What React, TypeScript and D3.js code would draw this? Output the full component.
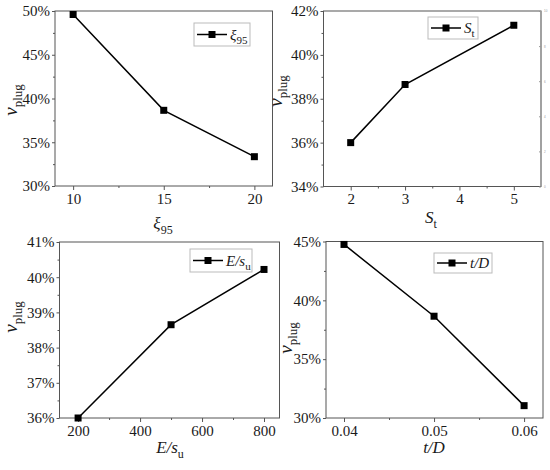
import { useEffect, useRef } from 'react';
import * as d3 from 'd3';

// ---- data ----
const xiX = [10, 15, 20];
const xiY = [49.6, 38.65, 33.35];
const xiXTicks = [10, 15, 20];
const xiYTicks = [30, 35, 40, 45, 50];

const stX = [2, 3, 5];
const stY = [36.0, 38.65, 41.35];
const stXTicks = [2, 3, 4, 5];
const stYTicks = [34, 36, 38, 40, 42];
const stRightTicks = [0, 2, 4, 6, 8, 10];

const esuX = [200, 500, 800];
const esuY = [36.0, 38.65, 40.22];
const esuXTicks = [200, 400, 600, 800];
const esuYTicks = [36, 37, 38, 39, 40, 41];

const tdX = [0.04, 0.05, 0.06];
const tdY = [44.75, 38.65, 31.05];
const tdXTicks = [0.04, 0.05, 0.06];
const tdYTicks = [30, 35, 40, 45];

type Part = { t: string; it?: boolean; sub?: boolean };

const vPlug: Part[] = [{ t: 'v', it: true }, { t: 'plug', sub: true }];
const xiLabel: Part[] = [{ t: 'ξ', it: true }, { t: '95', sub: true }];
const stLabel: Part[] = [{ t: 'S', it: true }, { t: 't', sub: true }];
const esuLabel: Part[] = [{ t: 'E/s', it: true }, { t: 'u', sub: true }];
const tdLabel: Part[] = [{ t: 't/D', it: true }];

interface PanelSpec {
  xs: number[];
  ys: number[];
  xTicks: number[];
  yTicks: number[];
  xDomain: [number, number];
  yDomain: [number, number];
  box: [number, number, number, number]; // left, top, right, bottom
  xFmt: (d: number) => string;
  xTitle: Part[];
  xTitlePos: [number, number];
  yTitlePos: [number, number];
  legend: [number, number, number, number]; // x, y, w, h
  rightTicks?: number[];
}

const panels: PanelSpec[] = [
  {
    xs: xiX, ys: xiY, xTicks: xiXTicks, yTicks: xiYTicks,
    xDomain: [9, 21], yDomain: [30, 50],
    box: [55, 11, 272.5, 186],
    xFmt: d => String(d),
    xTitle: xiLabel, xTitlePos: [163, 229], yTitlePos: [17, 100],
    legend: [194, 23, 56, 23]
  },
  {
    xs: stX, ys: stY, xTicks: stXTicks, yTicks: stYTicks,
    xDomain: [1.5, 5.5], yDomain: [34, 42],
    box: [323.5, 11, 541, 186.5],
    xFmt: d => String(d),
    xTitle: stLabel, xTitlePos: [431, 223], yTitlePos: [282, 91],
    legend: [428, 17, 50, 22],
    rightTicks: stRightTicks
  },
  {
    xs: esuX, ys: esuY, xTicks: esuXTicks, yTicks: esuYTicks,
    xDomain: [140, 850], yDomain: [36, 41],
    box: [59.5, 242, 279.5, 418],
    xFmt: d => String(d),
    xTitle: esuLabel, xTitlePos: [170, 453], yTitlePos: [17, 317],
    legend: [190, 249, 62, 23]
  },
  {
    xs: tdX, ys: tdY, xTicks: tdXTicks, yTicks: tdYTicks,
    xDomain: [0.038, 0.0621], yDomain: [30, 45],
    box: [326, 241.5, 543, 418],
    xFmt: d3.format('.2f'),
    xTitle: tdLabel, xTitlePos: [434, 453], yTitlePos: [292, 338],
    legend: [434, 253, 58, 20]
  }
];

const FONT = '"Liberation Serif", "Times New Roman", serif';
const FRAME = '#555';

function addRich(sel: d3.Selection<SVGTextElement, unknown, null, undefined>, parts: Part[], size: number, subSize: number) {
  parts.forEach(p => {
    const ts = sel.append('tspan')
      .text(p.t)
      .attr('font-size', p.sub ? subSize : size)
      .attr('font-style', p.it ? 'italic' : 'normal');
    if (p.sub) ts.attr('dy', size * 0.28);
  });
}

export default function App() {
  const svgRef = useRef<SVGSVGElement>(null);

  useEffect(() => {
    if (!svgRef.current) return;
    const svg = d3.select(svgRef.current);
    svg.selectAll('*').remove();

    panels.forEach(p => {
      const [l, t, r, b] = p.box;
      const x = d3.scaleLinear().domain(p.xDomain).range([l, r]);
      const y = d3.scaleLinear().domain(p.yDomain).range([b, t]);
      const g = svg.append('g').attr('font-family', FONT);

      // frame
      g.append('rect')
        .attr('x', l).attr('y', t)
        .attr('width', r - l).attr('height', b - t)
        .attr('fill', 'none')
        .attr('stroke', FRAME)
        .attr('stroke-width', 1);

      const styleAxis = (a: d3.Selection<SVGGElement, unknown, null, undefined>) => {
        a.select('.domain').remove();
        a.selectAll('line').attr('stroke', FRAME);
        a.selectAll('text')
          .attr('font-family', FONT)
          .attr('font-size', 15)
          .attr('fill', '#1a1a1a');
      };

      // x axis
      const xMinor = d3.pairs(p.xTicks).map(([a, c]) => (a + c) / 2);
      g.append('g')
        .attr('transform', `translate(0,${b})`)
        .call(d3.axisBottom(x).tickValues(xMinor).tickSize(2).tickFormat(() => ''))
        .call(styleAxis);
      g.append('g')
        .attr('transform', `translate(0,${b})`)
        .call(d3.axisBottom(x).tickValues(p.xTicks).tickSize(4).tickPadding(3).tickFormat(d => p.xFmt(+d)))
        .call(styleAxis);

      // y axis
      const yMinor = d3.pairs(p.yTicks).map(([a, c]) => (a + c) / 2);
      g.append('g')
        .attr('transform', `translate(${l},0)`)
        .call(d3.axisLeft(y).tickValues(yMinor).tickSize(2).tickFormat(() => ''))
        .call(styleAxis);
      g.append('g')
        .attr('transform', `translate(${l},0)`)
        .call(d3.axisLeft(y).tickValues(p.yTicks).tickSize(3).tickPadding(2).tickFormat(d => `${d}%`))
        .call(styleAxis);

      // faint secondary axis (top-right panel)
      if (p.rightTicks) {
        const yr = d3.scaleLinear().domain([0, 10]).range([b, t]);
        const ra = g.append('g')
          .attr('transform', `translate(${r},0)`)
          .call(d3.axisRight(yr).tickValues(p.rightTicks).tickSize(-2).tickPadding(3));
        ra.select('.domain').remove();
        ra.selectAll('line').attr('stroke', '#999');
        ra.selectAll('text').attr('font-size', 3).attr('fill', '#999');
        g.append('line')
          .attr('x1', r).attr('x2', r).attr('y1', t).attr('y2', b)
          .attr('stroke', '#999');
      }

      // data line
      const pts = p.xs.map((v, i) => [v, p.ys[i]] as [number, number]);
      const line = d3.line<[number, number]>().x(d => x(d[0])).y(d => y(d[1]));
      g.append('path')
        .attr('d', line(pts))
        .attr('fill', 'none')
        .attr('stroke', '#000')
        .attr('stroke-width', 1.5);

      const ms = 7;
      g.selectAll('rect.pt')
        .data(pts)
        .enter()
        .append('rect')
        .attr('class', 'pt')
        .attr('x', d => x(d[0]) - ms / 2)
        .attr('y', d => y(d[1]) - ms / 2)
        .attr('width', ms)
        .attr('height', ms)
        .attr('fill', '#000');

      // legend
      const [lx, ly, lw, lh] = p.legend;
      g.append('rect')
        .attr('x', lx).attr('y', ly)
        .attr('width', lw).attr('height', lh)
        .attr('fill', '#fff')
        .attr('stroke', '#bbb')
        .attr('stroke-width', 1);
      const cy = ly + lh / 2;
      g.append('line')
        .attr('x1', lx + 3).attr('x2', lx + 33)
        .attr('y1', cy).attr('y2', cy)
        .attr('stroke', '#000').attr('stroke-width', 1.5);
      g.append('rect')
        .attr('x', lx + 18 - ms / 2).attr('y', cy - ms / 2)
        .attr('width', ms).attr('height', ms)
        .attr('fill', '#000');
      const lt = g.append('text')
        .attr('x', lx + 36)
        .attr('y', cy + 5)
        .attr('fill', '#1a1a1a');
      addRich(lt, p.xTitle, 15, 11);

      // axis titles
      const xt = g.append('text')
        .attr('x', p.xTitlePos[0])
        .attr('y', p.xTitlePos[1])
        .attr('text-anchor', 'middle')
        .attr('fill', '#1a1a1a');
      addRich(xt, p.xTitle, 17, 12);

      const yt = g.append('text')
        .attr('transform', `translate(${p.yTitlePos[0]},${p.yTitlePos[1]}) rotate(-90)`)
        .attr('text-anchor', 'middle')
        .attr('fill', '#1a1a1a');
      addRich(yt, vPlug, 19, 13);
    });
  }, []);

  return (
    <div style={{ position: 'absolute', left: 0, top: 0 }}>
      <svg ref={svgRef} width={550} height={470} style={{ display: 'block', background: '#fff' }} />
    </div>
  );
}
